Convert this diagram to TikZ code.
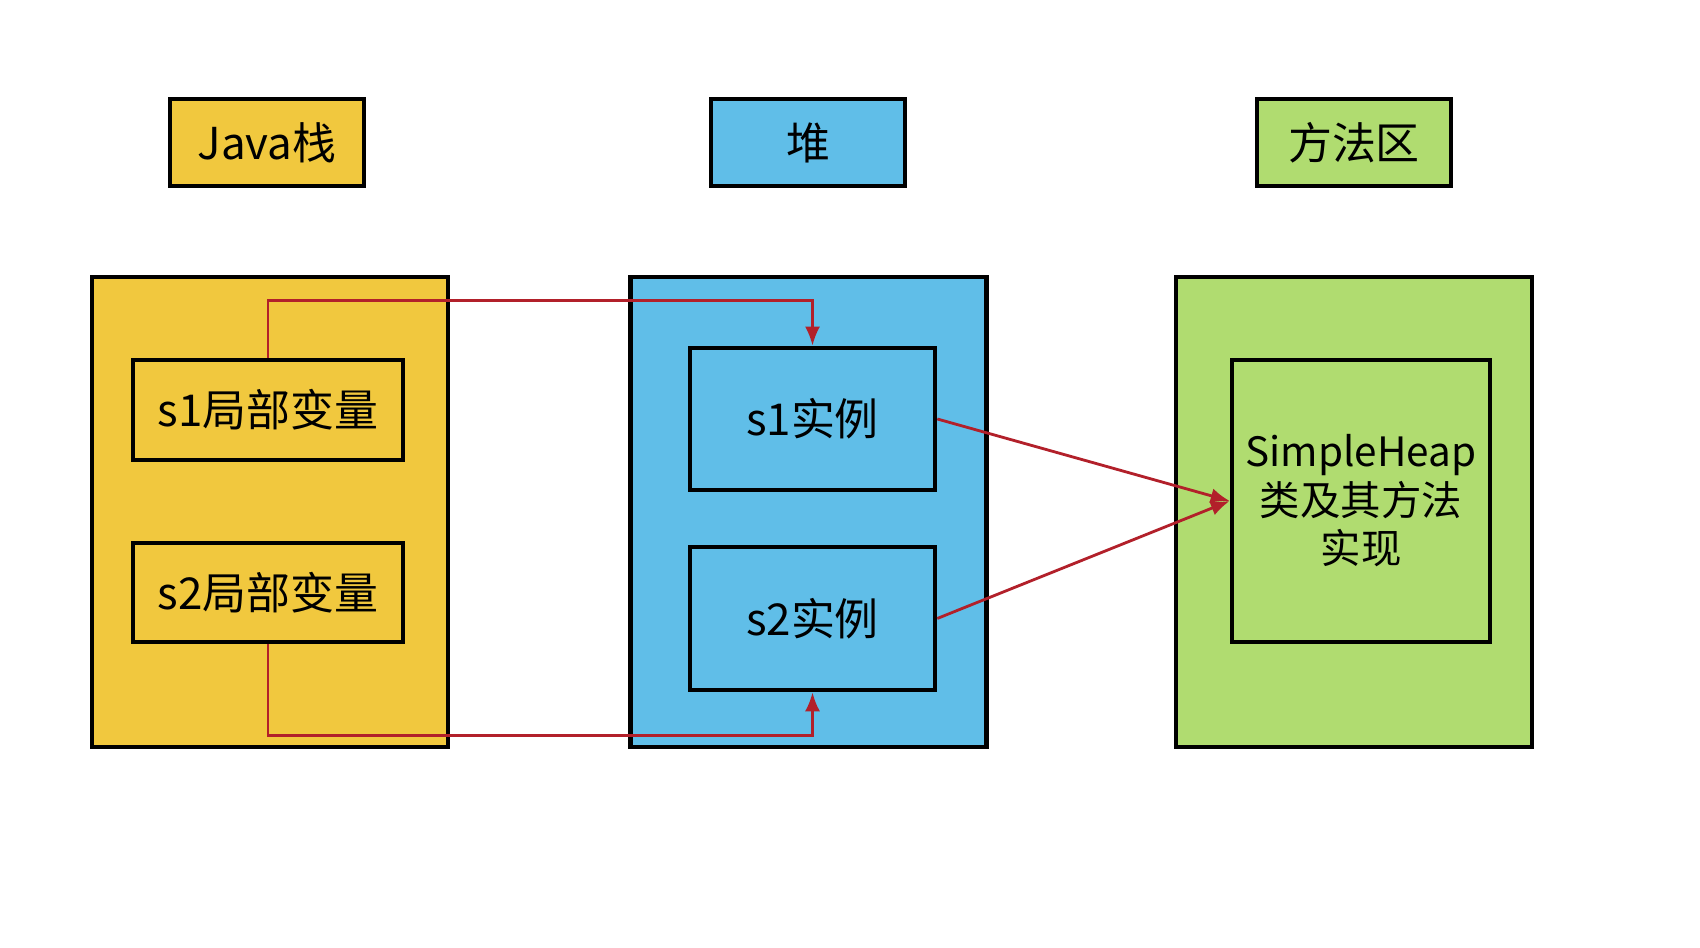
\documentclass[tikz,border=0pt]{standalone}
\usepackage{fontspec}
\setmainfont{Noto Sans CJK SC}
\usetikzlibrary{arrows.meta}
\definecolor{stackyellow}{RGB}{241,200,62}
\definecolor{heapblue}{RGB}{96,190,232}
\definecolor{methodgreen}{RGB}{176,220,112}
\definecolor{refred}{RGB}{178,32,42}
\begin{document}
\begin{tikzpicture}[
    title/.style={draw,line width=1.3pt,minimum width=1.94cm,minimum height=0.87cm,font=\fontsize{12.5}{15}\selectfont},
    area/.style={draw,line width=1.3pt,minimum width=3.56cm,minimum height=4.70cm},
    item/.style={draw,line width=1.3pt,font=\fontsize{12.5}{15}\selectfont},
    link/.style={refred,line width=0.8pt,-{Latex[length=1.9mm,width=1.5mm]}}]
    \useasboundingbox (0,0) rectangle (17,9.48);
    % titles
    \node[title,fill=stackyellow] (stacktitle) at (2.67,8.055) {Java栈};
    \node[title,fill=heapblue] (heaptitle) at (8.08,8.055) {堆};
    \node[title,fill=methodgreen] (methodtitle) at (13.54,8.055) {方法区};
    % areas
    \node[area,fill=stackyellow] (stack) at (2.70,4.36) {};
    \node[area,fill=heapblue] (heap) at (8.085,4.36) {};
    \node[area,fill=methodgreen] (method) at (13.54,4.36) {};
    % local variables
    \node[item,minimum width=2.70cm,minimum height=1.00cm] (s1var) at (2.68,5.38) {s1局部变量};
    \node[item,minimum width=2.70cm,minimum height=0.99cm] (s2var) at (2.68,3.555) {s2局部变量};
    % instances
    \node[item,minimum width=2.45cm,minimum height=1.42cm] (s1obj) at (8.125,5.29) {s1实例};
    \node[item,minimum width=2.45cm,minimum height=1.43cm] (s2obj) at (8.125,3.295) {s2实例};
    % class
    \node[item,minimum width=2.58cm,minimum height=2.82cm,align=center,font=\fontsize{11.5}{13.8}\selectfont] (cls) at (13.61,4.47) {SimpleHeap\\类及其方法\\实现};
    % references
    \draw[link] (s1var.north) -- ++(0,0.57) -| (s1obj.north);
    \draw[link] (s2var.south) -- ++(0,-0.91) -| (s2obj.south);
    \draw[link] (s1obj.east) -- (cls.west);
    \draw[link] (s2obj.east) -- (cls.west);
\end{tikzpicture}
\end{document}
